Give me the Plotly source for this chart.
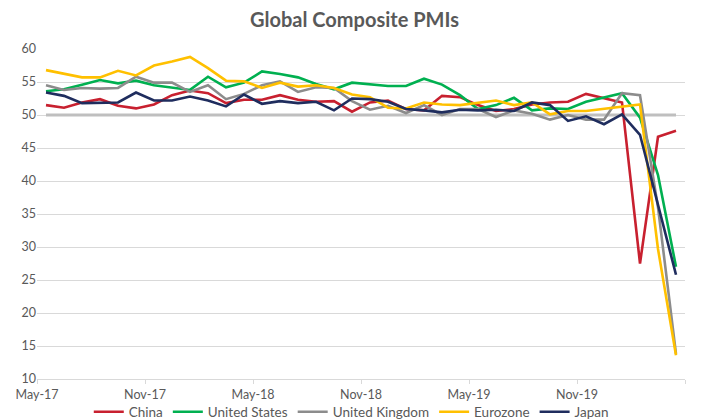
import plotly.graph_objects as go

months = ["May-17","Jun-17","Jul-17","Aug-17","Sep-17","Oct-17","Nov-17","Dec-17",
          "Jan-18","Feb-18","Mar-18","Apr-18","May-18","Jun-18","Jul-18","Aug-18",
          "Sep-18","Oct-18","Nov-18","Dec-18","Jan-19","Feb-19","Mar-19","Apr-19",
          "May-19","Jun-19","Jul-19","Aug-19","Sep-19","Oct-19","Nov-19","Dec-19",
          "Jan-20","Feb-20","Mar-20","Apr-20"]

china = [51.5,51.1,51.9,52.4,51.4,51.0,51.6,53.0,53.7,53.3,51.8,52.3,52.3,53.0,52.3,52.0,
         52.1,50.5,51.9,52.2,50.9,50.7,52.9,52.7,51.5,50.6,50.9,51.6,51.9,52.0,53.2,52.6,
         51.9,27.5,46.7,47.6]
us = [53.6,53.9,54.6,55.3,54.8,55.2,54.5,54.1,53.8,55.8,54.2,54.9,56.6,56.2,55.7,54.7,
      53.9,54.9,54.7,54.4,54.4,55.5,54.6,53.0,50.9,51.5,52.6,50.7,51.0,50.9,52.0,52.7,
      53.3,49.6,40.9,27.0]
uk = [54.5,53.8,54.1,54.0,54.1,55.8,54.9,54.9,53.5,54.5,52.4,53.2,54.5,55.1,53.5,54.2,
      54.1,52.1,50.8,51.4,50.3,51.5,50.0,50.9,50.9,49.7,50.7,50.2,49.3,50.0,49.3,49.3,
      53.3,53.0,36.0,13.8]
eurozone = [56.8,56.3,55.7,55.7,56.7,56.0,57.5,58.1,58.8,57.1,55.2,55.1,54.1,54.9,54.3,54.5,
            54.1,53.1,52.7,51.1,51.0,51.9,51.6,51.5,51.8,52.2,51.5,51.9,50.1,50.6,50.6,50.9,
            51.3,51.6,29.7,13.6]
japan = [53.4,52.9,51.8,51.9,51.9,53.4,52.2,52.2,52.8,52.2,51.3,53.1,51.7,52.1,51.8,52.0,
         50.7,52.5,52.4,52.0,50.9,50.7,50.4,50.8,50.7,50.8,50.6,51.9,51.5,49.1,49.8,48.6,
         50.1,47.0,36.2,25.8]
threshold = [50] * len(months)

series_names = ["China", "United States", "United Kingdom", "Eurozone", "Japan"]
series_values = [china, us, uk, eurozone, japan]
colors = ["#C8202F", "#00B050", "#8C8C8C", "#FFC000", "#1F2D5E"]

tick_labels = ["May-17", "Nov-17", "May-18", "Nov-18", "May-19", "Nov-19", ""]
tick_pos = [-0.5, 5.5, 11.5, 17.5, 23.5, 29.5, 35.5]

x = list(range(len(months)))

fig = go.Figure()
fig.add_trace(go.Scatter(x=x, y=threshold, mode="lines", showlegend=False,
                         line=dict(color="#BFBFBF", width=3), hoverinfo="skip"))
for name, vals, c in zip(series_names, series_values, colors):
    fig.add_trace(go.Scatter(x=x, y=vals, mode="lines", name=name,
                             text=months, line=dict(color=c, width=2.6)))

font_family = "Lato, 'Noto Sans', sans-serif"
# page body has an 8px default margin, so the figure is sized to fit the window
fig.update_layout(
    width=693, height=411,
    margin=dict(l=29, r=16, t=41, b=40, autoexpand=False),
    paper_bgcolor="white", plot_bgcolor="white",
    title=dict(text="<b>Global Composite PMIs</b>", x=0.5, xanchor="center",
               y=0.971, yanchor="middle",
               font=dict(family=font_family, size=20, color="#595959")),
    font=dict(family=font_family, size=12, color="#595959"),
    legend=dict(orientation="h", x=0.485, xanchor="center", y=-0.1, yanchor="middle",
                font=dict(size=13.5, color="#595959"), itemwidth=30,
                bgcolor="rgba(0,0,0,0)"),
    xaxis=dict(range=[-0.5, 35.5], tickmode="array", tickvals=tick_pos, ticktext=tick_labels,
               showgrid=False, zeroline=False, showline=True, linecolor="#D9D9D9",
               linewidth=1, ticks="outside", ticklen=4, tickcolor="#D9D9D9",
               automargin=False, tickfont=dict(size=12.5, color="#595959")),
    yaxis=dict(range=[10, 60], tickmode="linear", tick0=10, dtick=5,
               showgrid=True, gridcolor="#D9D9D9", gridwidth=1, zeroline=False,
               showline=False, ticks="", automargin=False,
               tickfont=dict(size=12.5, color="#595959")),
)

fig.write_html("out.html")
